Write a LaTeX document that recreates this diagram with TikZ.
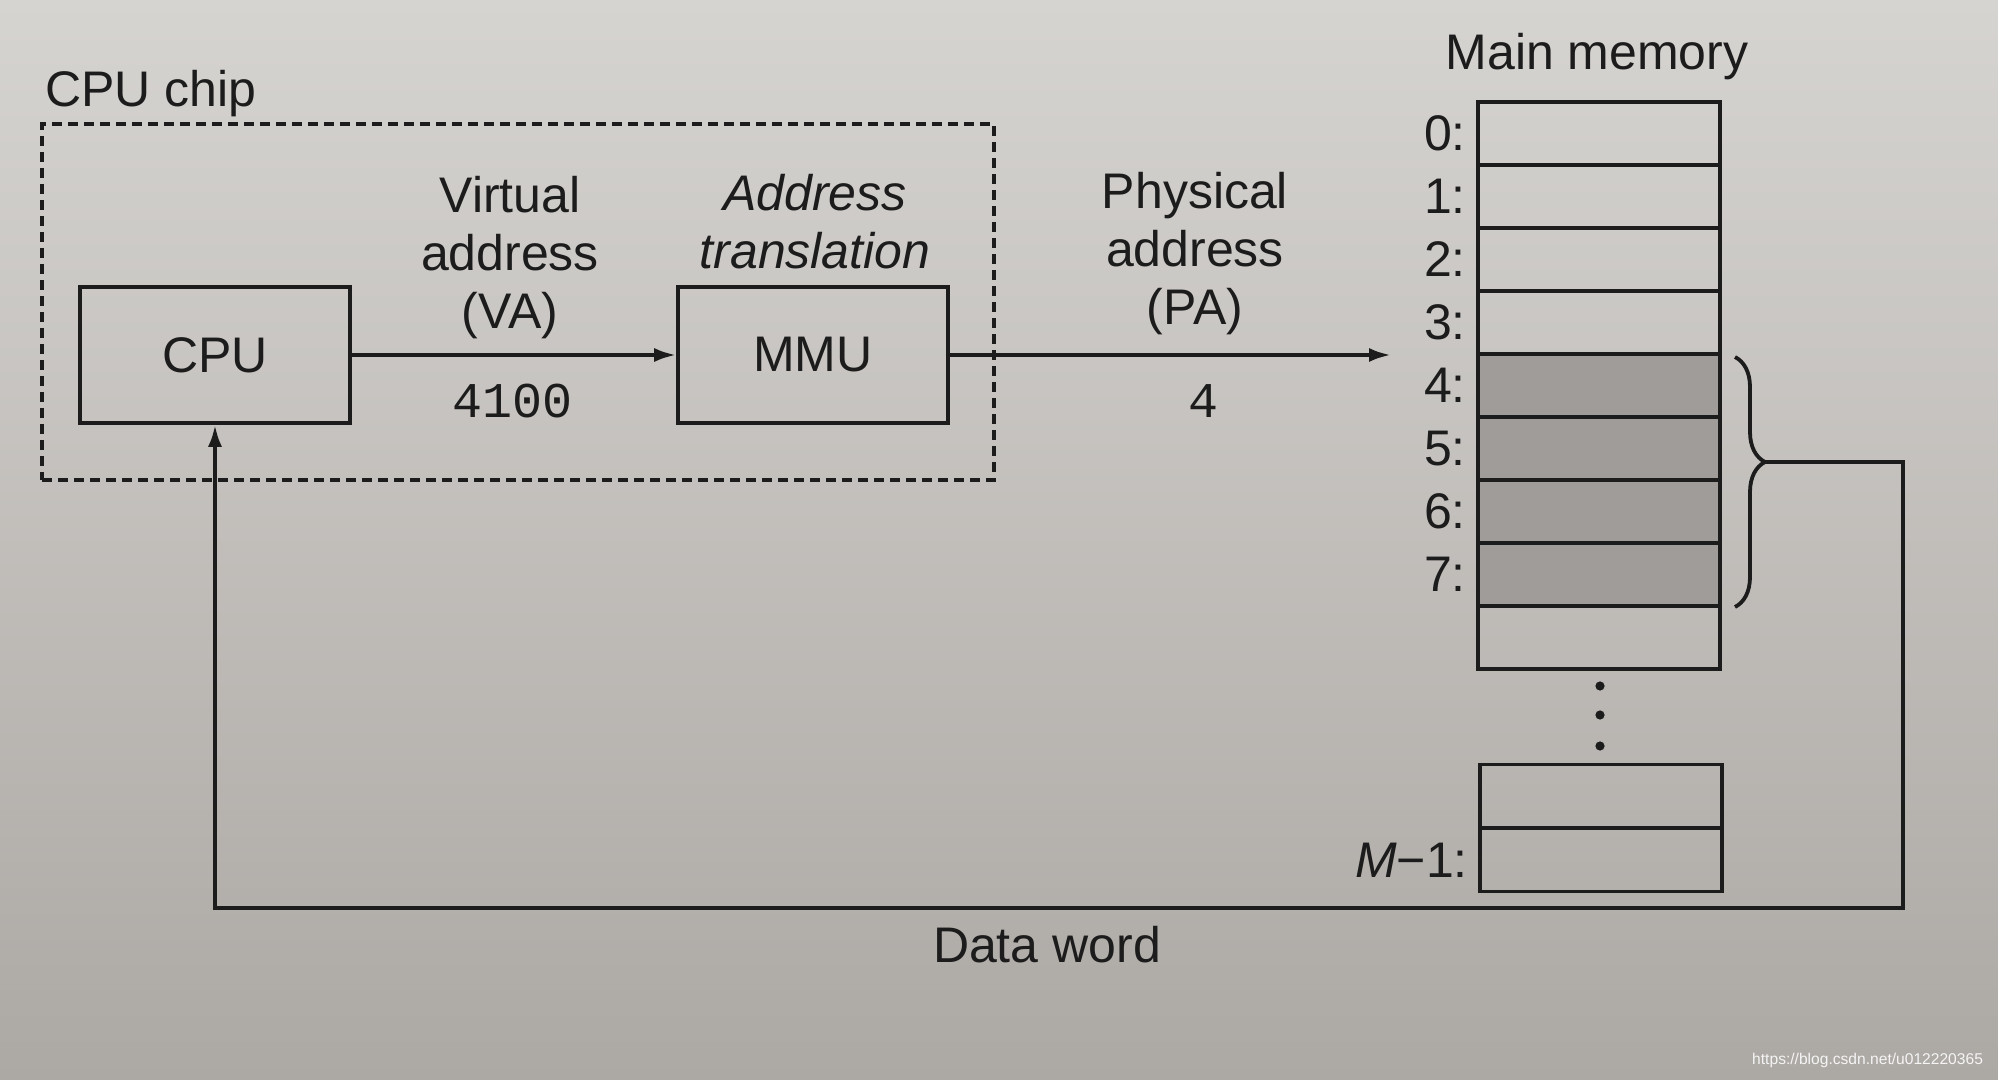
\documentclass[tikz,border=0pt]{standalone}
\usepackage{fontspec}
\setmainfont{Liberation Sans}
\setmonofont{Liberation Mono}
\usetikzlibrary{arrows.meta, decorations.pathreplacing}

\definecolor{paper}{HTML}{D6D4D1}
\definecolor{paperdark}{HTML}{ACA8A4}
\definecolor{ink}{HTML}{1C1C1C}
\definecolor{dotgray}{HTML}{9F9C99}

\newcommand{\figfont}{\fontsize{25}{29}\selectfont}

\begin{document}
\begin{tikzpicture}[x=0.5pt, y=-0.5pt,
    every node/.style={text=ink, font=\figfont},
    box/.style={draw=ink, line width=1.8pt, minimum width=135pt, minimum height=68pt, inner sep=0pt},
    chipbox/.style={draw=ink, line width=1.7pt, dash pattern=on 5pt off 3pt, minimum width=476pt, minimum height=178pt},
    cell/.style={draw=ink, line width=1.8pt, minimum width=121pt, minimum height=31.5pt, inner sep=0pt},
    used/.style={cell, fill=dotgray},
    addr/.style={anchor=east, inner sep=5pt},
    link/.style={draw=ink, line width=1.9pt, -{Latex[length=11pt,width=7pt]}},
    wire/.style={draw=ink, line width=1.9pt}]

  \shade[top color=paper, bottom color=paperdark] (0,0) rectangle (1998,1080);
  \useasboundingbox (0,0) rectangle (1998,1080);

  % CPU chip
  \node[chipbox] (chip) at (518,302) {};
  \node[anchor=base west, inner sep=0pt] (chiplbl) at (45,107) {CPU chip};
  \node[box] (cpu) at (215,355) {CPU};
  \node[box] (mmu) at (813,355) {MMU};

  \node[align=center] (va) at (510,258) {Virtual\\address\\(VA)};
  \node (vanum) at (513,401) {\texttt{4100}};
  \node[align=center, font=\figfont\itshape] (trans) at (815,222) {Address\\translation};

  \node[align=center] (pa) at (1195,254) {Physical\\address\\(PA)};
  \node (panum) at (1203,401) {\texttt{4}};

  % main memory
  \node (mainmem) at (1597,57) {Main memory};
  \foreach \i in {0,...,3}
    \node[cell] (m\i) at (1599,{133.5+63*\i}) {};
  \foreach \i in {4,...,7}
    \node[used] (m\i) at (1599,{133.5+63*\i}) {};
  \node[cell] (m8) at (1599,637.5) {};
  \foreach \i in {0,...,7}
    \node[addr] (a\i) at (m\i.west) {\i:};

  \fill[ink] (1600,686) circle (2.3pt) (1600,715) circle (2.3pt) (1600,746) circle (2.3pt);

  \node[cell] (mA) at (1601,796) {};
  \node[cell] (mB) at (1601,860) {};
  \node[addr] (aM) at (mB.west) {\textit{M}−1:};

  \draw[wire, decorate, decoration={brace, amplitude=15pt, aspect=0.42}] (1735,357) -- (1735,607);

  \coordinate (pend) at (1391,355);
  \coordinate (bt) at (1765,462);
  \coordinate (turn) at (1903,462);
  \coordinate (low) at (1903,908);

  \draw[link] (cpu) -- (mmu);
  \draw[link] (mmu) -- (pend);
  \draw[link] (bt) -- (turn) -- (low) -| (cpu.south);

  \node (dataword) at (1047,945) {Data word};

  \node[anchor=east, text=white!92!gray, font=\fontsize{7.8}{9}\selectfont] (url) at (1990,1060) {https://blog.csdn.net/u012220365};
\end{tikzpicture}
\end{document}
